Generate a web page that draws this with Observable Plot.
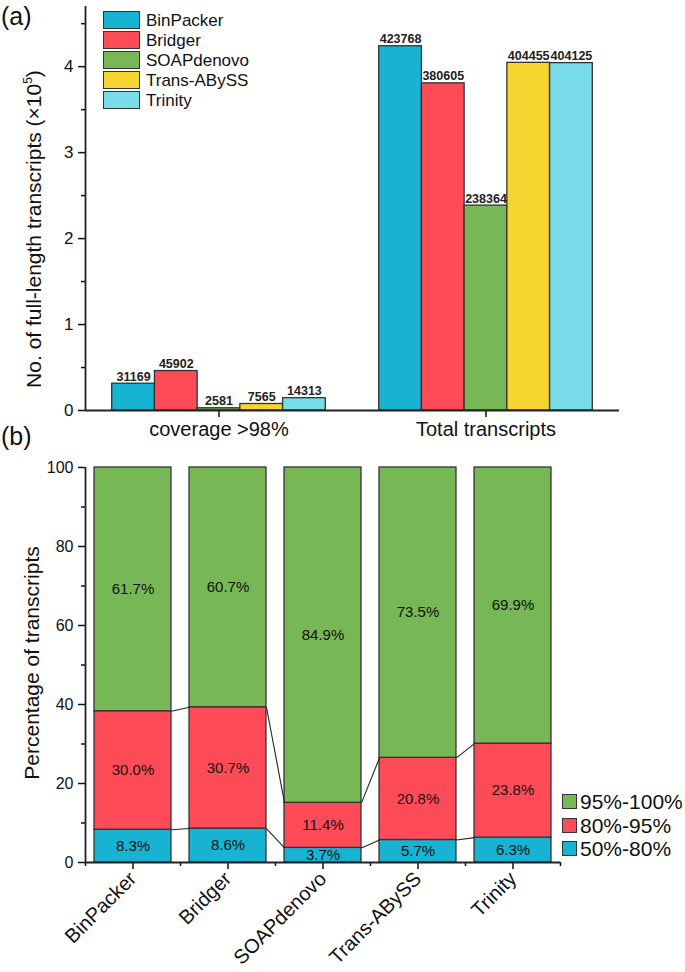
<!DOCTYPE html>
<html><head><meta charset="utf-8">
<script src="https://cdn.jsdelivr.net/npm/d3@7"></script>
<script src="https://cdn.jsdelivr.net/npm/@observablehq/plot@0.6"></script>
<style>
body{margin:0;background:#fff;font-family:"Liberation Sans",Arial,sans-serif;}
#wrap{position:relative;width:685px;height:972px;overflow:hidden;background:#fff}
.abs{position:absolute;color:#111;white-space:nowrap;line-height:1}
.row{display:flex;align-items:center}
.sw{box-sizing:border-box;border:1.5px solid #333}
</style></head><body><div id="wrap"></div>
<script>
// ---- data ----
const assemblers = ["BinPacker","Bridger","SOAPdenovo","Trans-ABySS","Trinity"];
const assemblerColors = ["#18B2D2","#FF4A57","#77B756","#F7D531","#78DDE8"];
const groups = ["coverage >98%","Total transcripts"];
const coverage98 = [31169,45902,2581,7565,14313];
const totalTranscripts = [423768,380605,238364,404455,404125];
const yTicksA = [0,1,2,3,4];

const classes = ["50%-80%","80%-95%","95%-100%"];
const classColors = ["#18B2D2","#FF4A57","#77B756"];
const pct50_80 = [8.3,8.6,3.7,5.7,6.3];
const pct80_95 = [30.0,30.7,11.4,20.8,23.8];
const pct95_100 = [61.7,60.7,84.9,73.5,69.9];
const yTicksB = [0,20,40,60,80,100];

const font = '"Liberation Sans", Arial, sans-serif';
const wrap = document.getElementById("wrap");

// ---- panel (a) ----
const bwA = 0.16;
const seriesA = [coverage98, totalTranscripts];
const rowsA = [];
seriesA.forEach((vals, gi) => vals.forEach((v, si) => {
  const x1 = gi + (si - 2.5) * bwA;
  rowsA.push({group: groups[gi], assembler: assemblers[si], raw: v, value: v / 1e5, x1, x2: x1 + bwA});
}));

const plotA = Plot.plot({
  width: 685, height: 445,
  marginLeft: 85, marginRight: 66, marginTop: 6, marginBottom: 35,
  style: {fontFamily: font, color: "#111", background: "transparent", overflow: "visible"},
  x: {domain: [-0.5, 1.5]},
  y: {domain: [0, 4.7]},
  color: {domain: assemblers, range: assemblerColors},
  marks: [
    Plot.rectY(rowsA, {x1: "x1", x2: "x2", y1: 0, y2: "value", fill: "assembler", stroke: "#333", strokeWidth: 1.3}),
    Plot.text(rowsA, {x: d => (d.x1 + d.x2) / 2, y: "value", text: d => String(d.raw), dy: -7, fontWeight: "bold", fontSize: 12.5, fill: "#222"}),
    Plot.axisY({ticks: yTicksA, tickSize: 7, tickPadding: 5, fontSize: 17, tickFormat: d => String(d), label: null, strokeWidth: 1.5}),
    Plot.axisY({ticks: yTicksA.map(t => t + 0.5), tickSize: 4, tickFormat: () => "", label: null, strokeWidth: 1.5}),
    Plot.axisX({ticks: [0, 1], tickFormat: i => groups[i], tickSize: 7, tickPadding: 4, fontSize: 20, label: null, strokeWidth: 1.5}),
    Plot.ruleX([-0.5], {y1: 0, y2: 4.7, stroke: "#222", strokeWidth: 1.8}),
    Plot.ruleY([0], {stroke: "#222", strokeWidth: 1.8})
  ]
});
plotA.style.position = "absolute"; plotA.style.left = "0px"; plotA.style.top = "0px";
wrap.appendChild(plotA);

// ---- panel (b) ----
const hwB = 0.405;
const pctSeries = [pct50_80, pct80_95, pct95_100];
const rowsB = [];
const cum = [];
assemblers.forEach((a, i) => {
  let base = 0;
  const c = [];
  pctSeries.forEach((s, k) => {
    rowsB.push({i, assembler: a, cls: classes[k], v: s[i], y1: base, y2: base + s[i]});
    base += s[i];
    c.push(base);
  });
  cum.push(c);
});
const linksB = [];
for (let k = 0; k < 2; k++) {
  for (let i = 0; i < assemblers.length - 1; i++) {
    linksB.push({x1: i + hwB, y1: cum[i][k], x2: i + 1 - hwB, y2: cum[i + 1][k]});
  }
}

const plotB = Plot.plot({
  width: 685, height: 527,
  marginLeft: 85, marginRight: 125, marginTop: 22, marginBottom: 110,
  style: {fontFamily: font, color: "#111", background: "transparent", overflow: "visible"},
  x: {domain: [-0.5, 4.5]},
  y: {domain: [0, 100]},
  color: {domain: classes, range: classColors},
  marks: [
    Plot.rectY(rowsB, {x1: d => d.i - hwB, x2: d => d.i + hwB, y1: "y1", y2: "y2", fill: "cls", stroke: "#333", strokeWidth: 1.3}),
    Plot.link(linksB, {x1: "x1", y1: "y1", x2: "x2", y2: "y2", stroke: "#222", strokeWidth: 1.1}),
    Plot.text(rowsB, {x: "i", y: d => (d.y1 + d.y2) / 2, text: d => d.v.toFixed(1) + "%", fontSize: 15, fill: "#111"}),
    Plot.axisY({ticks: yTicksB, tickSize: 7, tickPadding: 5, fontSize: 16, tickFormat: d => String(d), label: null, strokeWidth: 1.5}),
    Plot.axisY({ticks: yTicksB.slice(0, -1).map(t => t + 10), tickSize: 4, tickFormat: () => "", label: null, strokeWidth: 1.5}),
    Plot.axisX({ticks: assemblers.map((a, i) => i), tickFormat: i => assemblers[i], tickSize: 7, tickPadding: 6, tickRotate: -45, fontSize: 20, label: null, strokeWidth: 1.5}),
    Plot.axisX({ticks: [-0.5, 0.5, 1.5, 2.5, 3.5, 4.5], tickSize: 4, tickFormat: () => "", label: null, strokeWidth: 1.5}),
    Plot.ruleX([-0.5], {y1: 0, y2: 100, stroke: "#222", strokeWidth: 1.8}),
    Plot.ruleY([0], {stroke: "#222", strokeWidth: 1.8})
  ]
});
plotB.style.position = "absolute"; plotB.style.left = "0px"; plotB.style.top = "445px";
wrap.appendChild(plotB);

// ---- text overlays ----
function addText(txt, css) {
  const d = document.createElement("div");
  d.className = "abs";
  d.innerHTML = txt;
  Object.assign(d.style, css);
  wrap.appendChild(d);
  return d;
}
addText("(a)", {left: "1px", top: "4px", fontSize: "25px"});
addText("(b)", {left: "1px", top: "424px", fontSize: "25px"});
addText("No. of full-length transcripts (×10<sup style='font-size:12px;vertical-align:9px'>5</sup>)",
  {left: "33px", top: "229px", fontSize: "21px", transform: "translate(-50%,-50%) rotate(-90deg)"});
addText("Percentage of transcripts",
  {left: "31px", top: "663px", fontSize: "21px", transform: "translate(-50%,-50%) rotate(-90deg)"});

// legend (a)
const legA = document.createElement("div");
legA.className = "abs";
Object.assign(legA.style, {left: "103px", top: "10px"});
assemblers.forEach((a, i) => {
  const r = document.createElement("div");
  r.className = "row";
  r.style.height = "20px";
  r.innerHTML = `<div class="sw" style="width:37px;height:18px;background:${assemblerColors[i]}"></div><span style="font-size:17px;margin-left:6px">${a}</span>`;
  legA.appendChild(r);
});
wrap.appendChild(legA);

// legend (b)
const legB = document.createElement("div");
legB.className = "abs";
Object.assign(legB.style, {left: "562px", top: "790px"});
classes.slice().reverse().forEach((c) => {
  const k = classes.indexOf(c);
  const r = document.createElement("div");
  r.className = "row";
  r.style.height = "23.5px";
  r.innerHTML = `<div class="sw" style="width:15px;height:15px;background:${classColors[k]}"></div><span style="font-size:21px;margin-left:3px">${c}</span>`;
  legB.appendChild(r);
});
wrap.appendChild(legB);
</script></body></html>
